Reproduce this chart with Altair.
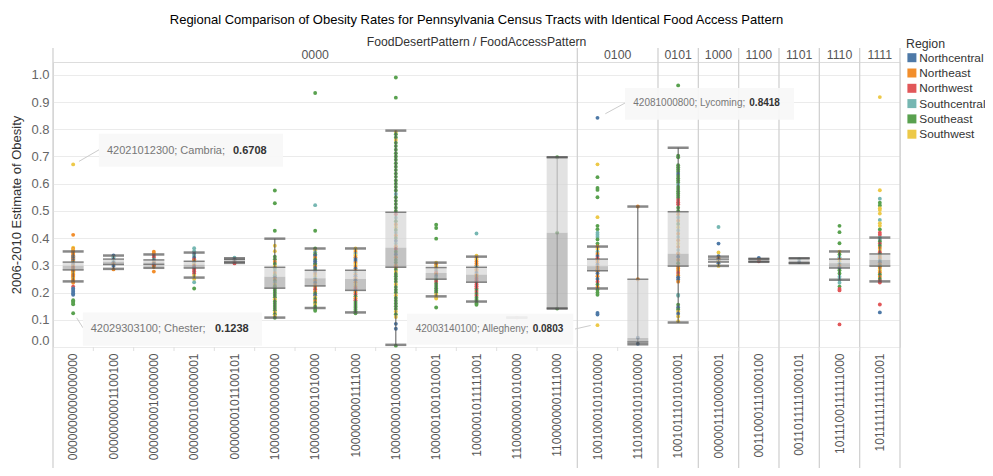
import altair as alt
import pandas as pd

FONT = "Liberation Sans"

# ---------------- data ----------------
CATS = ["0000000000000000", "0000000001100100", "0000000010000000", "0000000100000001",
        "0000000101100101", "1000000000000000", "1000000001010000", "1000000001111000",
        "1000000010000000", "1000001001010001", "1000001011111001", "1100000001010000",
        "1100000001111000", "1001000101010000", "1101000101010000", "1001011101010001",
        "0000011100000001", "0011000111000100", "0011011111000101", "1011100111111000",
        "1011111111111001"]
GROUPS = ["0000"] * 13 + ["0100"] * 2 + ["0101", "1000", "1100", "1101", "1110", "1111"]

REGIONS = ["Northcentral", "Northeast", "Northwest", "Southcentral", "Southeast", "Southwest"]
REGION_CODES = ["NC", "NE", "NW", "SC", "SE", "SW"]
REGION_COLORS = ["#4e79a7", "#f28e2b", "#e15759", "#76b7b2", "#59a14f", "#edc948"]

box_low = [0.241, 0.287, 0.291, 0.255, 0.309, 0.108, 0.143, 0.127, 0.008, 0.186, 0.167,
           0.108, 0.141, 0.215, 0.010, 0.090, 0.298, 0.313, 0.308, 0.247, 0.241]
box_q1 = [0.283, 0.303, 0.303, 0.290, 0.312, 0.216, 0.224, 0.208, 0.293, 0.249, 0.238,
          0.108, 0.141, 0.280, 0.018, 0.297, 0.312, 0.313, 0.308, 0.290, 0.297]
box_med = [0.298, 0.313, 0.310, 0.302, 0.318, 0.258, 0.253, 0.250, 0.365, 0.272, 0.266,
           0.108, 0.420, 0.297, 0.033, 0.342, 0.318, 0.318, 0.316, 0.308, 0.320]
box_q3 = [0.312, 0.323, 0.320, 0.315, 0.322, 0.293, 0.282, 0.282, 0.495, 0.292, 0.293,
          0.108, 0.697, 0.323, 0.249, 0.497, 0.323, 0.324, 0.326, 0.323, 0.342]
box_high = [0.351, 0.336, 0.340, 0.347, 0.326, 0.398, 0.362, 0.362, 0.795, 0.310, 0.332,
            0.108, 0.697, 0.369, 0.516, 0.732, 0.332, 0.324, 0.326, 0.351, 0.402]

pts_01 = [(0.6708, "SW"), (0.412, "NE"), (0.365, "SW"), (0.360, "NE"), (0.356, "SW"), (0.352, "NE"),
          (0.347, "NE"), (0.342, "NE"), (0.337, "NE"), (0.333, "NC"), (0.330, "NE"), (0.326, "NC"),
          (0.322, "NE"), (0.318, "NC"), (0.314, "NE"), (0.310, "SC"), (0.306, "NE"), (0.302, "NC"),
          (0.298, "NE"), (0.294, "NE"), (0.290, "NW"), (0.286, "NE"), (0.282, "NE"), (0.278, "NE"),
          (0.274, "NE"), (0.270, "SW"), (0.266, "NE"), (0.262, "NE"), (0.258, "NE"), (0.254, "NE"),
          (0.250, "SW"), (0.246, "NE"), (0.242, "NE"), (0.236, "NE"), (0.222, "NW"), (0.215, "NC"),
          (0.209, "NC"), (0.203, "NC"), (0.197, "NC"), (0.192, "NC"), (0.172, "SE"), (0.167, "SE"),
          (0.162, "SE"), (0.157, "SE"), (0.1238, "SE")]
pts_02 = [(0.336, "NC"), (0.330, "SC"), (0.322, "NC"), (0.316, "SC"), (0.310, "NC"), (0.305, "NE"),
          (0.298, "NC"), (0.285, "NE")]
pts_03 = [(0.350, "NE"), (0.343, "NE"), (0.335, "NW"), (0.329, "NW"), (0.322, "SC"), (0.316, "NC"),
          (0.311, "NE"), (0.305, "NC"), (0.300, "NW"), (0.294, "NE"), (0.277, "NE")]
pts_04 = [(0.363, "SC"), (0.352, "SC"), (0.343, "NC"), (0.335, "SC"), (0.328, "NC"), (0.322, "NW"),
          (0.316, "NE"), (0.310, "NC"), (0.304, "SW"), (0.298, "NW"), (0.292, "NC"), (0.285, "NW"),
          (0.278, "NW"), (0.270, "NW"), (0.262, "SW"), (0.250, "SW"), (0.238, "SC"), (0.215, "SE")]
pts_05 = [(0.328, "SC"), (0.322, "NC"), (0.317, "SC"), (0.312, "NW"), (0.307, "NW")]
pts_06 = [(0.575, "SE"), (0.528, "SE"), (0.427, "SE"), (0.372, "SW"), (0.352, "SW"), (0.332, "SE"),
          (0.322, "SE"), (0.313, "NE"), (0.305, "SE"), (0.296, "SW"), (0.288, "SE"), (0.280, "SC"),
          (0.272, "NE"), (0.264, "SE"), (0.256, "NC"), (0.250, "NE"), (0.243, "SE"), (0.237, "SC"),
          (0.230, "SW"), (0.223, "SE"), (0.215, "SE"), (0.207, "SE"), (0.199, "SE"), (0.191, "SE"),
          (0.183, "SE"), (0.175, "SW"), (0.167, "SE"), (0.159, "SE"), (0.151, "SE"), (0.143, "SE"),
          (0.135, "SE"), (0.127, "SW"), (0.120, "SE"), (0.114, "SW"), (0.107, "SE")]
pts_07 = [(0.933, "SE"), (0.521, "SC"), (0.427, "SE"), (0.362, "SE"), (0.355, "SW"), (0.348, "SC"),
          (0.341, "SE"), (0.335, "NC"), (0.328, "NE"), (0.321, "SE"), (0.315, "NC"), (0.308, "NC"),
          (0.302, "SE"), (0.296, "NE"), (0.290, "NC"), (0.283, "SE"), (0.276, "NC"), (0.268, "NE"),
          (0.260, "SW"), (0.252, "SC"), (0.244, "NE"), (0.236, "NC"), (0.228, "NE"), (0.220, "NE"),
          (0.212, "NW"), (0.204, "NE"), (0.197, "SE"), (0.190, "NC"), (0.183, "SW"), (0.176, "SE"),
          (0.169, "NE"), (0.162, "SE"), (0.155, "SW"), (0.148, "SE"), (0.140, "SE"), (0.133, "SE")]
pts_08 = [(0.362, "SW"), (0.356, "SW"), (0.349, "NE"), (0.343, "SC"), (0.337, "SW"), (0.330, "NE"),
          (0.323, "NC"), (0.316, "NC"), (0.309, "NE"), (0.302, "SW"), (0.295, "NE"), (0.288, "NC"),
          (0.281, "NE"), (0.274, "SC"), (0.267, "NE"), (0.260, "NC"), (0.253, "NE"), (0.245, "NC"),
          (0.237, "NE"), (0.229, "SW"), (0.221, "NE"), (0.214, "NW"), (0.207, "NC"), (0.200, "NE"),
          (0.193, "NW"), (0.186, "SE"), (0.179, "NE"), (0.172, "NW"), (0.165, "SE"), (0.158, "SE"),
          (0.151, "SE"), (0.144, "SE"), (0.137, "SE"), (0.130, "SE"), (0.124, "SE")]
pts_09 = [(0.990, "SE"), (0.916, "SE"), (0.790, "SW"), (0.782, "SE"), (0.770, "SE"), (0.760, "SW"),
          (0.750, "SE"), (0.738, "SE"), (0.725, "SE"), (0.712, "SE"), (0.700, "SE"), (0.688, "SE"),
          (0.675, "SE"), (0.662, "SE"), (0.650, "SE"), (0.637, "SE"), (0.625, "SE"), (0.612, "SE"),
          (0.600, "SE"), (0.588, "SE"), (0.575, "SE"), (0.562, "SC"), (0.550, "SE"), (0.537, "SE"),
          (0.525, "SE"), (0.512, "SE"), (0.500, "SE"), (0.488, "NW"), (0.475, "SC"), (0.462, "SE"),
          (0.450, "NE"), (0.440, "SW"), (0.430, "SE"), (0.420, "SC"), (0.410, "NE"), (0.400, "SE"),
          (0.390, "NC"), (0.380, "SC"), (0.370, "NE"), (0.360, "NW"), (0.350, "SE"), (0.340, "NC"),
          (0.330, "NE"), (0.320, "SE"), (0.310, "SE"), (0.300, "NE"), (0.292, "NE"), (0.284, "SE"),
          (0.276, "SW"), (0.268, "SE"), (0.260, "SE"), (0.250, "SE"), (0.240, "SE"), (0.230, "SW"),
          (0.220, "SE"), (0.210, "SE"), (0.200, "SE"), (0.190, "SW"), (0.180, "SE"), (0.170, "SE"),
          (0.160, "SE"), (0.150, "SE"), (0.140, "SE"), (0.130, "SW"), (0.120, "SE"), (0.110, "SW"),
          (0.085, "NC"), (0.067, "NC"), (0.005, "SE")]
pts_10 = [(0.449, "SE"), (0.437, "SE"), (0.398, "SE"), (0.310, "SW"), (0.303, "NE"), (0.296, "SW"),
          (0.289, "NE"), (0.282, "SC"), (0.275, "NW"), (0.268, "NE"), (0.261, "NC"), (0.254, "SC"),
          (0.247, "SE"), (0.240, "NW"), (0.232, "SE"), (0.224, "SE"), (0.216, "SE"), (0.208, "SE"),
          (0.200, "SE"), (0.192, "SW"), (0.184, "SW"), (0.178, "SW"), (0.145, "SE")]
pts_11 = [(0.417, "SC"), (0.335, "SW"), (0.328, "NE"), (0.321, "SW"), (0.314, "NE"), (0.307, "NE"),
          (0.300, "NE"), (0.293, "SC"), (0.286, "NE"), (0.279, "NE"), (0.272, "NC"), (0.265, "NE"),
          (0.258, "NE"), (0.251, "NW"), (0.244, "NW"), (0.237, "NW"), (0.230, "NW"), (0.223, "NW"),
          (0.216, "NW"), (0.209, "SE"), (0.202, "NW"), (0.195, "SE"), (0.188, "NW"), (0.181, "SE"),
          (0.174, "SE"), (0.167, "SE"), (0.160, "SE"), (0.155, "SE")]
pts_12 = [(0.108, "NW")]
pts_13 = [(0.697, "SE"), (0.420, "SE"), (0.141, "SE")]
pts_14 = [(0.8418, "NC"), (0.671, "SW"), (0.624, "SE"), (0.584, "SE"), (0.577, "SE"), (0.550, "SE"),
          (0.477, "SW"), (0.445, "SE"), (0.433, "SE"), (0.420, "SC"), (0.412, "SC"), (0.404, "SC"),
          (0.395, "SE"), (0.380, "SE"), (0.369, "NE"), (0.360, "SW"), (0.350, "SC"), (0.342, "NE"),
          (0.334, "NC"), (0.326, "NW"), (0.318, "NE"), (0.310, "NE"), (0.302, "NC"), (0.294, "NE"),
          (0.286, "NE"), (0.278, "NE"), (0.270, "NC"), (0.260, "NE"), (0.250, "NC"), (0.240, "NW"),
          (0.230, "SE"), (0.220, "NE"), (0.210, "SE"), (0.200, "SE"), (0.192, "SE"), (0.125, "NC"),
          (0.119, "NC"), (0.0803, "SW")]
pts_15 = [(0.516, "NE"), (0.249, "NE"), (0.034, "NC"), (0.012, "NC")]
pts_16 = [(0.961, "SE"), (0.703, "SE"), (0.697, "SE"), (0.668, "SE"), (0.660, "SE"), (0.652, "SE"),
          (0.644, "SE"), (0.636, "NC"), (0.628, "SE"), (0.620, "SE"), (0.612, "SE"), (0.604, "SE"),
          (0.596, "SC"), (0.588, "SE"), (0.580, "SE"), (0.572, "SE"), (0.564, "SE"), (0.556, "SE"),
          (0.548, "SE"), (0.540, "NW"), (0.532, "NW"), (0.524, "NW"), (0.512, "SE"), (0.500, "SE"),
          (0.488, "NE"), (0.476, "SC"), (0.464, "NE"), (0.452, "SE"), (0.440, "SW"), (0.428, "SC"),
          (0.416, "NE"), (0.404, "SC"), (0.392, "NE"), (0.380, "SW"), (0.368, "NE"), (0.356, "SC"),
          (0.344, "NE"), (0.332, "NC"), (0.320, "NE"), (0.308, "SE"), (0.296, "NE"), (0.288, "NE"),
          (0.280, "NE"), (0.272, "NW"), (0.264, "NE"), (0.256, "NC"), (0.248, "NC"), (0.240, "NE"),
          (0.192, "SC"), (0.188, "SC"), (0.155, "SE"), (0.145, "NC"), (0.138, "SE"), (0.130, "SW"),
          (0.122, "NC"), (0.112, "SW"), (0.095, "SW")]
pts_17 = [(0.441, "SC"), (0.380, "NC"), (0.347, "SW"), (0.334, "NC"), (0.326, "NE"), (0.320, "NC"),
          (0.315, "SW"), (0.308, "NC"), (0.298, "SW")]
pts_18 = [(0.327, "NC"), (0.320, "NE"), (0.315, "NW")]
pts_19 = [(0.322, "SC"), (0.312, "NC")]
pts_20 = [(0.445, "SE"), (0.422, "SE"), (0.381, "SE"), (0.350, "SW"), (0.340, "SE"), (0.330, "SC"),
          (0.322, "NE"), (0.314, "SW"), (0.306, "SC"), (0.298, "NE"), (0.290, "NC"), (0.282, "SE"),
          (0.270, "SE"), (0.258, "SC"), (0.247, "SC"), (0.236, "SC"), (0.222, "SE"), (0.213, "NW"),
          (0.208, "NW"), (0.083, "NW")]
pts_21 = [(0.918, "SW"), (0.576, "SW"), (0.545, "SC"), (0.530, "SE"), (0.520, "SE"), (0.510, "SW"),
          (0.503, "SW"), (0.490, "SW"), (0.467, "SC"), (0.455, "SW"), (0.445, "SW"), (0.432, "SE"),
          (0.420, "NW"), (0.412, "NW"), (0.402, "SC"), (0.395, "SC"), (0.388, "SE"), (0.380, "NW"),
          (0.372, "SE"), (0.364, "NE"), (0.356, "SW"), (0.348, "NW"), (0.340, "SE"), (0.332, "NE"),
          (0.325, "NE"), (0.318, "SC"), (0.311, "NC"), (0.304, "NE"), (0.297, "SE"), (0.290, "NE"),
          (0.282, "SW"), (0.274, "NE"), (0.266, "SE"), (0.258, "NE"), (0.250, "SE"), (0.243, "NW"),
          (0.237, "NW"), (0.156, "NW"), (0.127, "NC")]

ann_cat = [CATS[0], CATS[0], CATS[13], CATS[13]]
ann_val = [0.6708, 0.1238, 0.0803, 0.8418]
ann_tract = ["42021012300", "42029303100", "42003140100", "42081000800"]
ann_county = ["Cambria", "Chester", "Allegheny", "Lycoming"]

# ---------------- tables ----------------
ALL_PTS = [pts_01, pts_02, pts_03, pts_04, pts_05, pts_06, pts_07, pts_08, pts_09, pts_10, pts_11,
           pts_12, pts_13, pts_14, pts_15, pts_16, pts_17, pts_18, pts_19, pts_20, pts_21]
code2name = dict(zip(REGION_CODES, REGIONS))
rows = []
for cat, pts in zip(CATS, ALL_PTS):
    for v, r in pts:
        rows.append({"cat": cat, "v": v, "region": code2name[r]})
df_pts = pd.DataFrame(rows)

df_box = pd.DataFrame({"cat": CATS, "low": box_low, "q1": box_q1, "med": box_med,
                       "q3": box_q3, "high": box_high})

first_cats, hdr_mid, hdr_edge = [], [], []
for g in dict.fromkeys(GROUPS):
    members = [c for c, gg in zip(CATS, GROUPS) if gg == g]
    first_cats.append(members[0])
    n = len(members)
    if n % 2 == 1:
        hdr_mid.append({"cat": members[n // 2], "label": g})
    else:
        hdr_edge.append({"cat": members[n // 2], "label": g})
df_sep = pd.DataFrame({"cat": first_cats})
df_last = pd.DataFrame({"cat": [CATS[-1]]})
df_hdr_mid = pd.DataFrame(hdr_mid)
df_hdr_edge = pd.DataFrame(hdr_edge)
df_cats = pd.DataFrame({"cat": CATS})

# ---------------- encodings ----------------
xscale = alt.Scale(domain=CATS, paddingInner=0, paddingOuter=0)
yscale = alt.Scale(domain=[0, 1.047], nice=False, zero=False)

X_AXIS = alt.Axis(title=None, labelAngle=270, labelFontSize=12, labelColor="#555555",
                  labelFont=FONT, labelPadding=6, ticks=False, domain=False, grid=False,
                  labelOverlap=False)
Y_AXIS = alt.Axis(title="2006-2010 Estimate of Obesity", values=[i / 10 for i in range(11)],
                  format=".1f", grid=True, gridColor="#ebebeb", gridWidth=1, domain=False,
                  ticks=False, labelFontSize=13, labelColor="#666666", labelFont=FONT,
                  labelPadding=4, labelFlush=True, titleFontSize=13, titleColor="#333333",
                  titleFont=FONT, titleFontWeight="normal", titlePadding=7)


def xn(bp=None):
    if bp is None:
        return alt.X("cat:N", scale=xscale, axis=X_AXIS)
    return alt.X("cat:N", scale=xscale, axis=X_AXIS, bandPosition=bp)


def yn(field):
    return alt.Y(field, scale=yscale, axis=Y_AXIS)


legend = alt.Legend(title="Region", orient="none", legendX=853, legendY=-24,
                    titleFontSize=12.3, titleFontWeight="normal", titleColor="#333333",
                    titleFont=FONT, labelFont=FONT, labelFontSize=11.8, labelColor="#333333",
                    symbolType="square", symbolSize=81, symbolStrokeWidth=0, symbolOpacity=1,
                    rowPadding=2.3, titlePadding=1.5, labelOffset=1.5, padding=0)

# ---------------- layers ----------------
sep = alt.Chart(df_sep).mark_rule(color="#d2d2d2", strokeWidth=1.3).encode(
    x=xn(0), y=alt.value(-14), y2=alt.value(414))
sep_end = alt.Chart(df_last).mark_rule(color="#d2d2d2", strokeWidth=1.3).encode(
    x=xn(1), y=alt.value(-14), y2=alt.value(414))
# small ticks at the category boundaries under the plot
bticks = alt.Chart(df_cats).mark_rule(color="#e0e0e0", strokeWidth=1).encode(
    x=xn(0), y=alt.value(285), y2=alt.value(289))

points = alt.Chart(df_pts).mark_circle(size=15, opacity=1).encode(
    x=xn(),
    y=yn("v:Q"),
    color=alt.Color("region:N", scale=alt.Scale(domain=REGIONS, range=REGION_COLORS), legend=legend),
)

whisk = alt.Chart(df_box).mark_rule(color="#555555", strokeWidth=1).encode(
    x=xn(0.5), y=yn("low:Q"), y2="high:Q")
box_up = alt.Chart(df_box).mark_bar(size=21, color="#d6d6d6", opacity=0.7).encode(
    x=xn(), y=yn("med:Q"), y2="q3:Q")
box_dn = alt.Chart(df_box).mark_bar(size=21, color="#a9a9a9", opacity=0.7).encode(
    x=xn(), y=yn("q1:Q"), y2="med:Q")
edge_q1 = alt.Chart(df_box).mark_tick(size=21, thickness=1.5, color="#555555").encode(
    x=xn(), y=yn("q1:Q"))
edge_q3 = alt.Chart(df_box).mark_tick(size=21, thickness=1.5, color="#555555").encode(
    x=xn(), y=yn("q3:Q"))
cap_lo = alt.Chart(df_box).mark_tick(size=21, thickness=2.5, color="#555555").encode(
    x=xn(), y=yn("low:Q"))
cap_hi = alt.Chart(df_box).mark_tick(size=21, thickness=2.5, color="#555555").encode(
    x=xn(), y=yn("high:Q"))

hdr1 = alt.Chart(df_hdr_mid).mark_text(font=FONT, fontSize=12.3, color="#555555",
                                       baseline="middle").encode(
    x=xn(0.5), y=alt.value(-7), text="label:N")
hdr2 = alt.Chart(df_hdr_edge).mark_text(font=FONT, fontSize=12.3, color="#555555",
                                        baseline="middle").encode(
    x=xn(0), y=alt.value(-7), text="label:N")

# annotation layout (pixel offsets from the annotated point, font size)
ANN_LAYOUT = [
    dict(box=(25.8, 209.8, -30.7, 2.3), text=(33.8, -13.7), val=159.8, lead=(5.8, -3, 26, -14.7), fs=11),
    dict(box=(9.8, 188.8, -0.9, 32.5), text=(17.5, 15.8), val=141.8, lead=(3.5, 4.5, 9.8, 14.5), fs=11),
    dict(box=(-190.5, -24.2, -11.4, 19.6), text=(-181.8, 4.3), val=-64.8, lead=(-22.5, 3.9, -6.8, 0.3), fs=10),
    dict(box=(27.5, 196.5, -29.8, 1.9), text=(35.8, -14.8), val=151.8, lead=(7.8, -4.1, 27.5, -14.8), fs=10),
]
ann_layers = []
for i, lay in enumerate(ANN_LAYOUT):
    d = pd.DataFrame({"cat": [ann_cat[i]], "v": [ann_val[i]],
                      "lbl": [f"{ann_tract[i]}; {ann_county[i]};"],
                      "val": [f"{ann_val[i]:.4f}"]})
    bx0, bx1, by0, by1 = lay["box"]
    lx0, ly0, lx1, ly1 = lay["lead"]
    base = alt.Chart(d)
    ann_layers.append(base.mark_rule(color="#cccccc", strokeWidth=1, xOffset=lx0, yOffset=ly0,
                                     x2Offset=lx1, y2Offset=ly1).encode(
        x=xn(0.5), x2=alt.X2("cat", bandPosition=0.5), y=yn("v:Q"), y2="v:Q"))
    ann_layers.append(base.mark_rect(color="#f7f7f7", opacity=0.93, xOffset=bx0, x2Offset=bx1,
                                     yOffset=by0, y2Offset=by1).encode(
        x=xn(0.5), x2=alt.X2("cat", bandPosition=0.5), y=yn("v:Q"), y2="v:Q"))
    ann_layers.append(base.mark_text(font=FONT, fontSize=lay["fs"], color="#777777", align="left",
                                     baseline="middle", dx=lay["text"][0], dy=lay["text"][1]).encode(
        x=xn(0.5), y=yn("v:Q"), text="lbl:N"))
    ann_layers.append(base.mark_text(font=FONT, fontSize=lay["fs"], color="#333333", fontWeight="bold",
                                     align="left", baseline="middle", dx=lay["val"],
                                     dy=lay["text"][1]).encode(
        x=xn(0.5), y=yn("v:Q"), text="val:N"))

chart = alt.layer(
    points, sep, sep_end, bticks, whisk, box_up, box_dn, edge_q1, edge_q3, cap_lo, cap_hi,
    hdr1, hdr2, *ann_layers
).properties(
    width=847, height=285,
    title=alt.TitleParams(
        text="Regional Comparison of Obesity Rates for Pennsylvania Census Tracts with Identical Food Access Pattern",
        subtitle="FoodDesertPattern  /  FoodAccessPattern",
        anchor="middle", frame="group", font=FONT, fontSize=13, fontWeight="normal",
        color="#000000", subtitleFont=FONT, subtitleFontSize=12.2, subtitleColor="#333333",
        subtitlePadding=9, offset=-10),
    autosize=alt.AutoSizeParams(type="none"),
    padding={"left": 45, "top": 54, "right": 85, "bottom": 121},
).configure_view(stroke="#d2d2d2", strokeWidth=1).configure(background="white")

chart.save("out.html", embed_options={"renderer": "svg", "actions": False})
